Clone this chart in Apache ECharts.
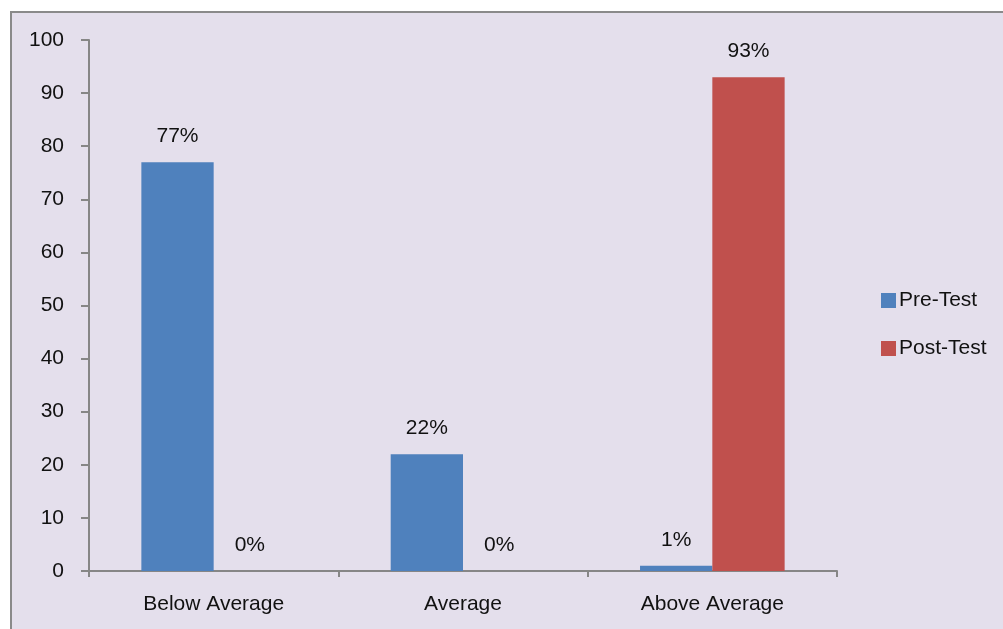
<!DOCTYPE html>
<html>
<head>
<meta charset="utf-8">
<script src="https://cdn.jsdelivr.net/npm/echarts@6/dist/echarts.min.js"></script>
<style>
  html, body { margin: 0; padding: 0; background: #ffffff; overflow: hidden; }
  #frame {
    position: absolute; left: 10px; top: 11px; width: 1010px; height: 640px;
    border-left: 2px solid #8a8a8a; border-top: 2px solid #8a8a8a;
    background: #e4dfec;
  }
  #chart { position: absolute; left: 0; top: 0; width: 1003px; height: 629px; }
</style>
</head>
<body>
<div id="frame"></div>
<div id="chart"></div>
<script>
const categories = ['Below Average', 'Average', 'Above Average'];
const preTest = [77, 22, 1];
const postTest = [0, 0, 93];
const seriesNames = ['Pre-Test', 'Post-Test'];

const FONT = '"Liberation Sans", Arial, sans-serif';
const TEXT = '#111111';
const AXIS = '#868686';

const chart = echarts.init(document.getElementById('chart'));

const pctLabel = {
  show: true,
  position: 'top',
  distance: 15,
  formatter: p => p.value + '%',
  fontFamily: FONT,
  fontSize: 21,
  color: TEXT
};

chart.setOption({
  backgroundColor: 'transparent',
  animation: false,
  grid: { left: 89, right: 166, top: 40, bottom: 58, containLabel: false },
  legend: {
    orient: 'vertical',
    left: 876,
    top: 285,
    itemWidth: 15,
    itemHeight: 15,
    itemGap: 27,
    icon: 'rect',
    textStyle: { fontFamily: FONT, fontSize: 21, color: TEXT, padding: [0, 0, 0, -2] },
    data: seriesNames
  },
  xAxis: {
    type: 'category',
    data: categories,
    axisLine: { lineStyle: { color: AXIS, width: 2 } },
    axisTick: { show: true, length: 6, alignWithLabel: false, lineStyle: { color: AXIS, width: 2 } },
    axisLabel: { margin: 23, fontFamily: FONT, fontSize: 21, color: TEXT }
  },
  yAxis: {
    type: 'value',
    min: 0,
    max: 100,
    interval: 10,
    splitLine: { show: false },
    axisLine: { show: true, lineStyle: { color: AXIS, width: 2 } },
    axisTick: { show: true, length: 8, lineStyle: { color: AXIS, width: 2 } },
    axisLabel: { margin: 25, fontFamily: FONT, fontSize: 21, color: TEXT }
  },
  series: [
    {
      name: seriesNames[0],
      type: 'bar',
      data: preTest,
      barGap: '0%',
      barCategoryGap: '42%',
      itemStyle: { color: '#4f81bd' },
      label: pctLabel
    },
    {
      name: seriesNames[1],
      type: 'bar',
      data: postTest,
      itemStyle: { color: '#c0504d' },
      label: pctLabel
    }
  ]
});
</script>
</body>
</html>
